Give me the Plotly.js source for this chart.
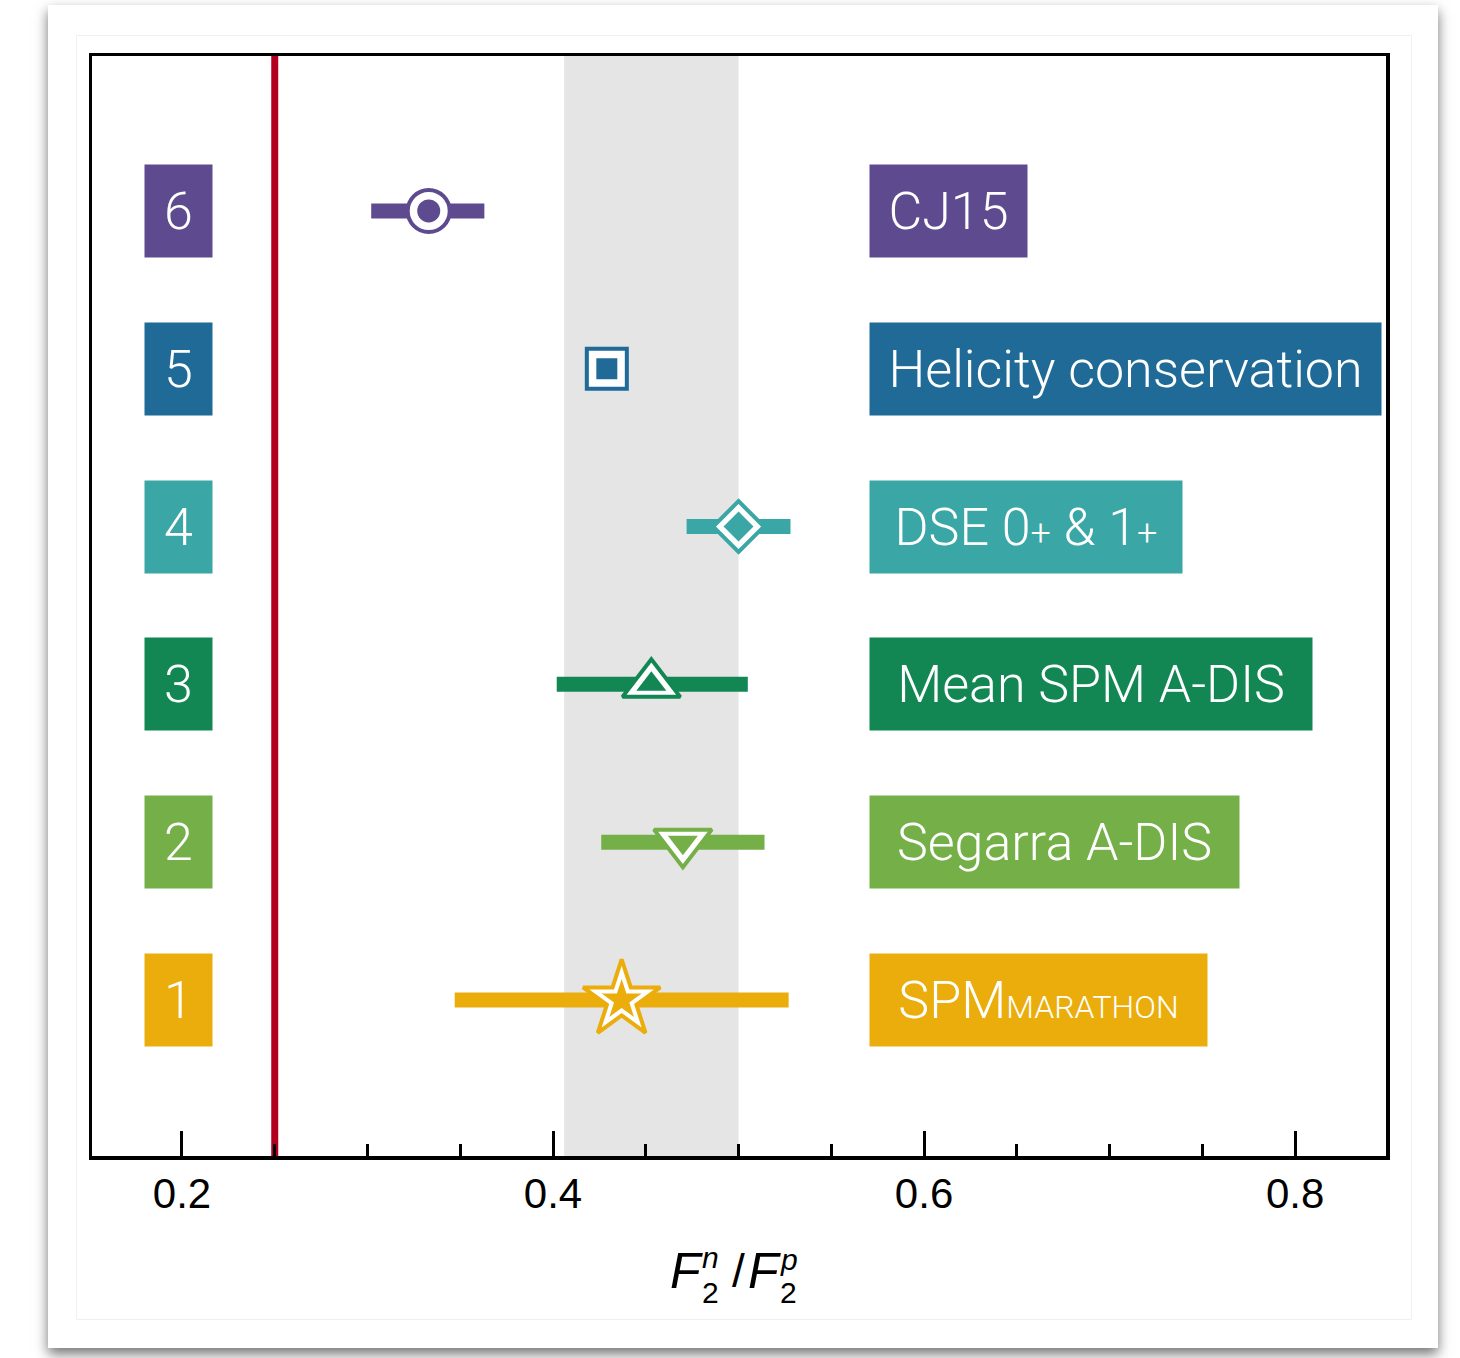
<!DOCTYPE html>
<html>
<head>
<meta charset="utf-8">
<script src="https://cdn.plot.ly/plotly-3.0.1.min.js"></script>
<style>
  html, body { margin:0; padding:0; background:#ffffff; width:1460px; height:1358px; overflow:hidden; }
  #card { position:absolute; left:48px; top:5px; width:1390px; height:1343px; background:#ffffff;
          box-shadow: 0 6px 12px rgba(0,0,0,0.55); }
  #inner { position:absolute; left:76px; top:35px; width:1334px; height:1283px; border:1px solid #f0f0f0; }
  #chart { position:absolute; left:0; top:0; width:1460px; height:1358px; }
</style>
</head>
<body>
<div id="card"></div>
<div id="inner"></div>
<div id="chart"></div>
<script>
// ---- data ----
const rows      = [6, 5, 4, 3, 2, 1];
const numbers   = ['6', '5', '4', '3', '2', '1'];
const labels    = ['CJ15', 'Helicity conservation',
                   'DSE 0<span style="font-size:36px">+</span> &amp; 1<span style="font-size:36px">+</span>',
                   'Mean SPM A-DIS', 'Segarra A-DIS', 'SPM<span style="font-size:32px">MARATHON</span>'];
const values    = [0.333, 0.429, 0.500, 0.453, 0.470, 0.437];
const errLow    = [0.302, null, 0.472, 0.402, 0.426, 0.347];
const errHigh   = [0.363, null, 0.528, 0.505, 0.514, 0.527];
const bandRange = [0.406, 0.500];
const refLine   = 0.25;
const tickVals  = [0.2, 0.4, 0.6, 0.8];
const tickText  = ['0.2', '0.4', '0.6', '0.8'];

// ---- styles ----
const colors    = ['#5E4A8F', '#1F6A96', '#3AA6A5', '#128753', '#74AF48', '#EBAD0C'];
const symbols   = ['circle', 'square', 'diamond', 'triangle-up', 'triangle-down', 'star'];
const outerSize = [42, 40, 39, 50, 50, 58];
const innerSize = [23, 21, 23, 26, 26, 30];
const boxWidths = [157, 511, 312, 442, 369, 337];
const LABEL_FONT = {family: 'Roboto, "Liberation Sans", sans-serif', size: 52, color: '#ffffff', weight: 300};

const traces = [];
rows.forEach((r, i) => {
  if (errLow[i] === null) return;
  traces.push({
    type: 'scatter', mode: 'markers', x: [values[i]], y: [r],
    marker: {size: 1, opacity: 0},
    error_x: {type: 'data', symmetric: false, array: [errHigh[i] - values[i]],
              arrayminus: [values[i] - errLow[i]], color: colors[i], thickness: 15, width: 0},
    hoverinfo: 'skip'
  });
});
traces.push({
  type: 'scatter', mode: 'markers', x: values, y: rows,
  marker: {symbol: symbols, size: outerSize, color: '#ffffff', opacity: 1,
           line: {color: colors, width: 4}}
});
traces.push({
  type: 'scatter', mode: 'markers', x: values, y: rows,
  marker: {symbol: symbols, size: innerSize, color: colors, opacity: 1, line: {width: 0}}
});

const L = 92, R = 74, T = 56, B = 202;
const W = 1460, H = 1358;
const pw = W - L - R, ph = H - T - B;
const px = p => (p - L) / pw;
const py = p => (H - B - p) / ph;

const annotations = [];
rows.forEach((r, i) => {
  annotations.push({
    xref: 'x', yref: 'y', x: 0.1981, y: r, xanchor: 'center', yanchor: 'middle',
    text: numbers[i], showarrow: false, width: 67, height: 92, borderpad: 0,
    bgcolor: colors[i], font: LABEL_FONT, align: 'center', valign: 'middle'
  });
  annotations.push({
    xref: 'x', yref: 'y', x: 0.5704, y: r, xanchor: 'left', yanchor: 'middle',
    text: labels[i], showarrow: false, width: boxWidths[i], height: 92, borderpad: 0,
    bgcolor: colors[i], font: LABEL_FONT, align: 'center', valign: 'middle'
  });
});
// x-axis title F2^n / F2^p with stacked scripts
const tf = {family: '"Liberation Sans", Arial, sans-serif', color: '#000000'};
const addT = (t, x, y, s) => annotations.push({xref: 'paper', yref: 'paper', x: px(x), y: py(y),
  xanchor: 'center', yanchor: 'middle', text: t, showarrow: false, font: Object.assign({size: s}, tf)});
addT('<i>F</i>', 686, 1271, 50);
addT('<i>n</i>', 710, 1257, 30);
addT('2', 710, 1292, 30);
addT('/', 738, 1271, 46);
addT('<i>F</i>', 764, 1271, 50);
addT('<i>p</i>', 789, 1259, 30);
addT('2', 788, 1292, 30);

const layout = {
  width: W, height: H,
  margin: {l: L, r: R, t: T, b: B, pad: 0},
  paper_bgcolor: 'rgba(0,0,0,0)', plot_bgcolor: '#ffffff',
  showlegend: false, hovermode: false,
  xaxis: {
    range: [0.1515, 0.849], showgrid: false, zeroline: false,
    showline: true, mirror: true, linewidth: 3.5, linecolor: '#000000',
    tickmode: 'array', tickvals: tickVals, ticktext: tickText,
    ticks: 'inside', ticklen: 25, tickwidth: 3, tickcolor: '#000000',
    tickfont: {family: '"Liberation Sans", Arial, sans-serif', size: 42, color: '#000000'},
    ticklabelstandoff: -2,
    minor: {dtick: 0.05, tick0: 0, ticks: 'inside', ticklen: 12, tickwidth: 3, tickcolor: '#000000', showgrid: false}
  },
  yaxis: {
    range: [0.011, 6.982], showgrid: false, zeroline: false,
    showline: true, mirror: true, linewidth: 3.5, linecolor: '#000000',
    showticklabels: false, ticks: ''
  },
  shapes: [
    {type: 'rect', xref: 'x', yref: 'paper', x0: bandRange[0], x1: bandRange[1], y0: 0, y1: 1,
     fillcolor: '#E5E5E5', line: {width: 0}, layer: 'below'},
    {type: 'line', xref: 'x', yref: 'paper', x0: refLine, x1: refLine, y0: 0, y1: 1,
     line: {color: '#B3001E', width: 7}, layer: 'below'}
  ],
  annotations: annotations
};

Plotly.newPlot('chart', traces, layout, {staticPlot: true, displayModeBar: false});
</script>
</body>
</html>
